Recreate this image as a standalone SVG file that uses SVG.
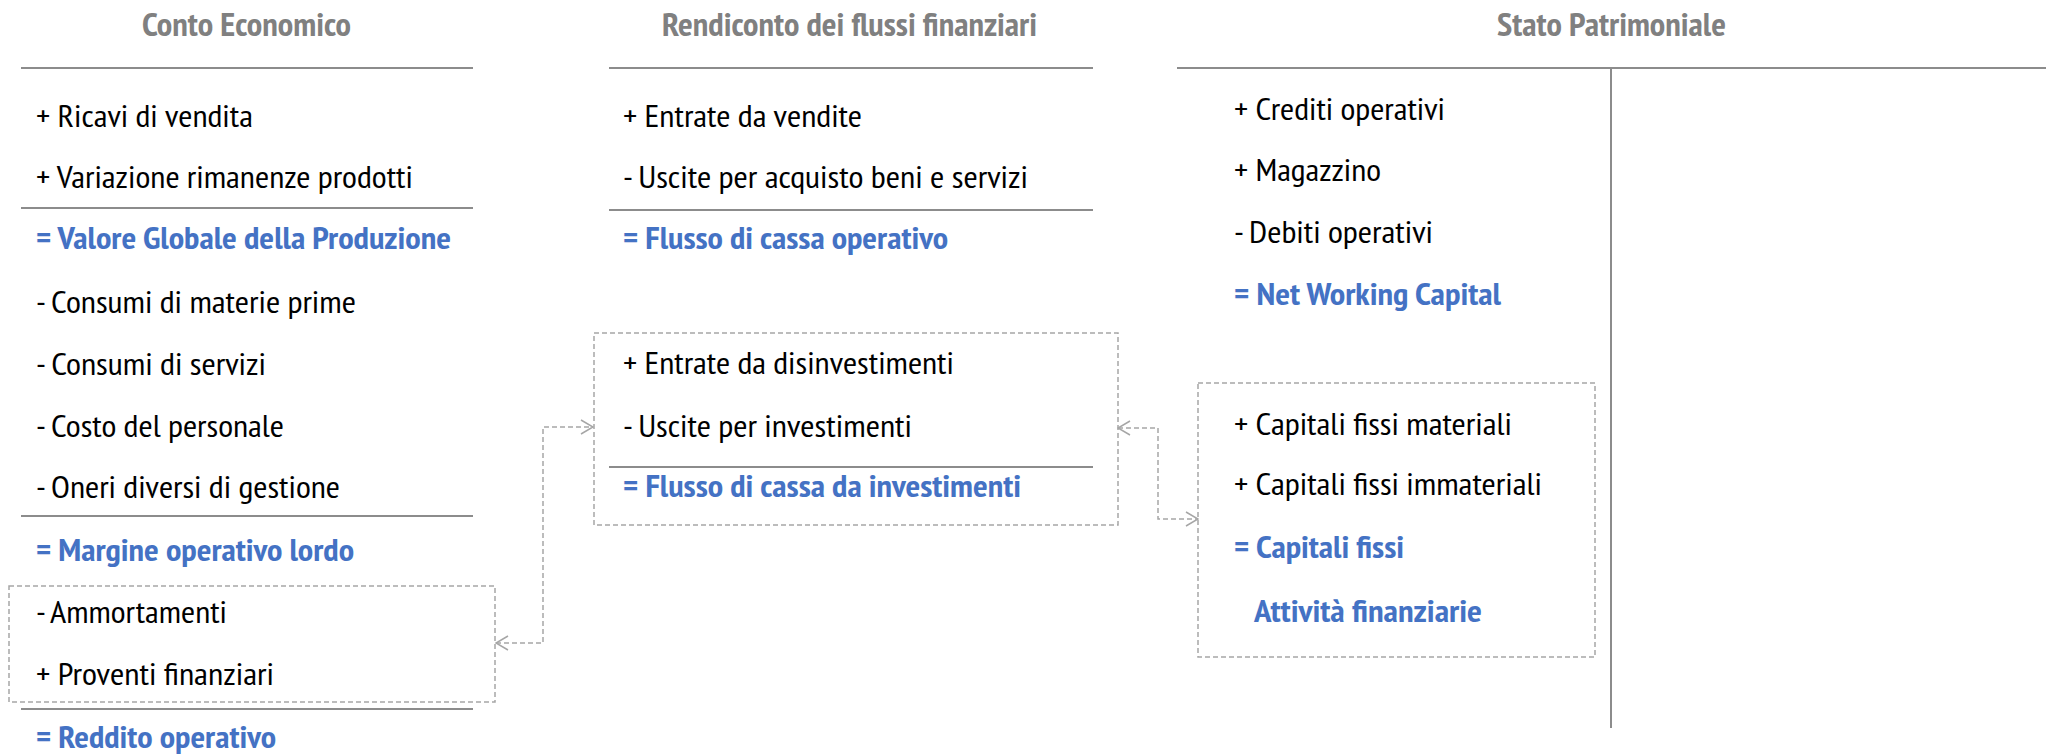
<svg xmlns="http://www.w3.org/2000/svg" width="2054" height="754" viewBox="0 0 2054 754">
<style>
  text { font-family: "PT Sans Narrow", "Liberation Sans Narrow", "Roboto", "Liberation Sans", sans-serif; }
  .t { font-size: 31px; fill: #000; }
  .b { font-size: 31px; font-weight: bold; fill: #4472C4; }
  .h { font-size: 33px; font-weight: bold; fill: #808080; }
  .rule { stroke: #8c8c8c; stroke-width: 2; fill: none; }
  .box { stroke: #a6a6a6; stroke-width: 1.5; stroke-dasharray: 5 3; fill: none; }
  .conn { stroke: #a6a6a6; stroke-width: 1.5; stroke-dasharray: 5 3; fill: none; }
</style>
<defs>
  <marker id="arr" viewBox="0 0 14 16" refX="13" refY="8" markerWidth="14" markerHeight="16" markerUnits="userSpaceOnUse" orient="auto-start-reverse">
    <path d="M1 1 L13 8 L1 15" fill="none" stroke="#a6a6a6" stroke-width="1.5"/>
  </marker>
</defs>
<rect width="2054" height="754" fill="#fff"/>

<g id="conto-economico">
  <text class="h" x="142" y="36" textLength="209" lengthAdjust="spacingAndGlyphs">Conto Economico</text>
  <line class="rule" x1="21" y1="68" x2="473" y2="68"/>
  <text class="t" x="36" y="127" textLength="217" lengthAdjust="spacingAndGlyphs">+ Ricavi di vendita</text>
  <text class="t" x="36" y="188" textLength="377" lengthAdjust="spacingAndGlyphs">+ Variazione rimanenze prodotti</text>
  <line class="rule" x1="21" y1="208" x2="473" y2="208"/>
  <text class="b" x="36" y="249" textLength="415" lengthAdjust="spacingAndGlyphs">= Valore Globale della Produzione</text>
  <text class="t" x="36" y="313" textLength="320" lengthAdjust="spacingAndGlyphs">- Consumi di materie prime</text>
  <text class="t" x="36" y="375" textLength="230" lengthAdjust="spacingAndGlyphs">- Consumi di servizi</text>
  <text class="t" x="36" y="437" textLength="248" lengthAdjust="spacingAndGlyphs">- Costo del personale</text>
  <text class="t" x="36" y="498" textLength="304" lengthAdjust="spacingAndGlyphs">- Oneri diversi di gestione</text>
  <line class="rule" x1="21" y1="516" x2="473" y2="516"/>
  <text class="b" x="36" y="561" textLength="318" lengthAdjust="spacingAndGlyphs">= Margine operativo lordo</text>
  <line class="rule" x1="21" y1="709" x2="473" y2="709"/>
  <text class="b" x="36" y="748" textLength="240" lengthAdjust="spacingAndGlyphs">= Reddito operativo</text>
</g>

<g id="ce-ammortamenti-box">
  <rect class="box" x="9" y="586" width="486" height="116"/>
  <text class="t" x="36" y="623" textLength="191" lengthAdjust="spacingAndGlyphs">- Ammortamenti</text>
  <text class="t" x="36" y="685" textLength="238" lengthAdjust="spacingAndGlyphs">+ Proventi finanziari</text>
</g>

<g id="rendiconto">
  <text class="h" x="662" y="36" textLength="375" lengthAdjust="spacingAndGlyphs">Rendiconto dei flussi finanziari</text>
  <line class="rule" x1="609" y1="68" x2="1093" y2="68"/>
  <text class="t" x="623" y="127" textLength="239" lengthAdjust="spacingAndGlyphs">+ Entrate da vendite</text>
  <text class="t" x="623" y="188" textLength="405" lengthAdjust="spacingAndGlyphs">- Uscite per acquisto beni e servizi</text>
  <line class="rule" x1="609" y1="210" x2="1093" y2="210"/>
  <text class="b" x="623" y="249" textLength="325" lengthAdjust="spacingAndGlyphs">= Flusso di cassa operativo</text>
</g>

<g id="rf-investimenti-box">
  <rect class="box" x="594" y="333" width="524" height="192"/>
  <text class="t" x="623" y="374" textLength="331" lengthAdjust="spacingAndGlyphs">+ Entrate da disinvestimenti</text>
  <text class="t" x="623" y="437" textLength="289" lengthAdjust="spacingAndGlyphs">- Uscite per investimenti</text>
  <line class="rule" x1="609" y1="467" x2="1093" y2="467"/>
  <text class="b" x="623" y="497" textLength="398" lengthAdjust="spacingAndGlyphs">= Flusso di cassa da investimenti</text>
</g>

<g id="stato-patrimoniale">
  <text class="h" x="1497" y="36" textLength="229" lengthAdjust="spacingAndGlyphs">Stato Patrimoniale</text>
  <line class="rule" x1="1177" y1="68" x2="2046" y2="68"/>
  <line class="rule" x1="1611" y1="68" x2="1611" y2="728"/>
  <text class="t" x="1234" y="120" textLength="211" lengthAdjust="spacingAndGlyphs">+ Crediti operativi</text>
  <text class="t" x="1234" y="181" textLength="147" lengthAdjust="spacingAndGlyphs">+ Magazzino</text>
  <text class="t" x="1234" y="243" textLength="199" lengthAdjust="spacingAndGlyphs">- Debiti operativi</text>
  <text class="b" x="1234" y="305" textLength="267" lengthAdjust="spacingAndGlyphs">= Net Working Capital</text>
</g>

<g id="sp-capitali-fissi-box">
  <rect class="box" x="1198" y="383" width="397" height="274"/>
  <text class="t" x="1234" y="435" textLength="278" lengthAdjust="spacingAndGlyphs">+ Capitali fissi materiali</text>
  <text class="t" x="1234" y="495" textLength="308" lengthAdjust="spacingAndGlyphs">+ Capitali fissi immateriali</text>
  <text class="b" x="1234" y="558" textLength="170" lengthAdjust="spacingAndGlyphs">= Capitali fissi</text>
  <text class="b" x="1254" y="622" textLength="228" lengthAdjust="spacingAndGlyphs">Attività finanziarie</text>
</g>

<g id="connectors">
  <path class="conn" d="M496 643 H543 V427 H593" marker-start="url(#arr)" marker-end="url(#arr)"/>
  <path class="conn" d="M1118 428 H1158 V519 H1198" marker-start="url(#arr)" marker-end="url(#arr)"/>
</g>
</svg>
